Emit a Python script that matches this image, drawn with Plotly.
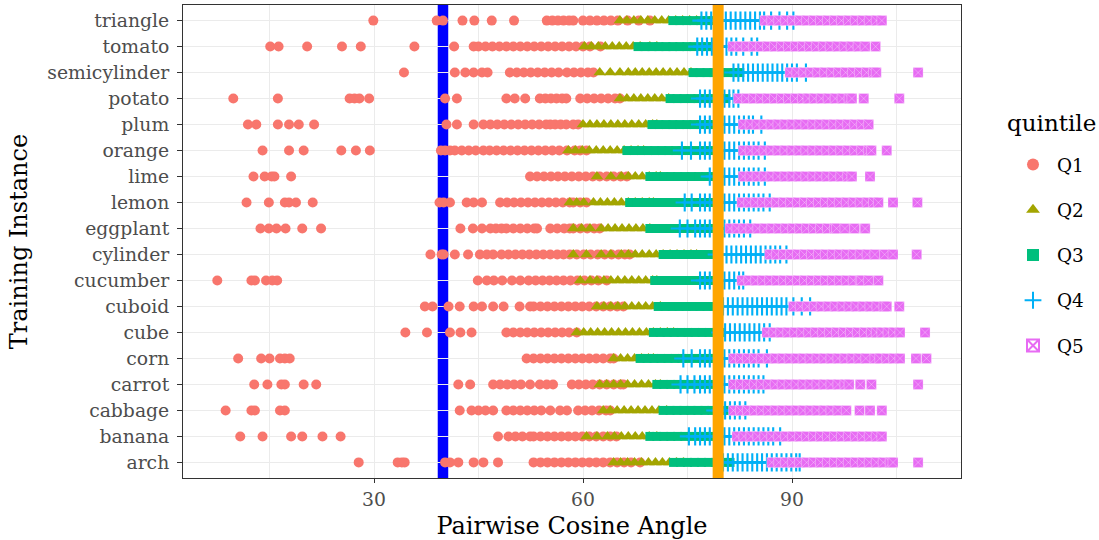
import plotly.graph_objects as go

# ---------------- data ----------------
categories = ["arch", "banana", "cabbage", "carrot", "corn", "cube", "cuboid",
              "cucumber", "cylinder", "eggplant", "lemon", "lime", "orange",
              "plum", "potato", "semicylinder", "tomato", "triangle"]
quintiles = ["Q1", "Q2", "Q3", "Q4", "Q5"]
x_ticks = [30, 60, 90]
blue_line_x = 39.9
orange_line_x = 79.4

triangle_q1 = [29.9, 39.0, 39.9, 42.7, 44.4, 46.9, 50.1, 54.8, 55.6, 56.4, 57.2, 58.0, 58.6, 60.0, 61.0, 62.0, 63.0, 64.0, 65.0, 66.4, 68.0, 69.6]
triangle_q2 = [65.3, 66.3, 67.3, 68.3, 69.3, 70.3, 71.3, 72.3, 73.3, 74.3, 75.3, 76.3, 77.0]
triangle_q3 = [72.9, 73.9, 74.9, 75.9, 76.9, 77.9, 78.7]
triangle_q4 = [77.0, 77.7, 78.4, 79.1, 79.8, 80.5, 81.2, 81.9, 82.6, 83.3, 84.0, 84.7, 85.4, 86.0, 87.0, 88.2, 89.3, 90.2]
triangle_q5 = [86.1, 87.1, 88.1, 89.1, 90.1, 91.1, 92.1, 93.1, 94.1, 95.1, 96.1, 97.1, 98.1, 99.1, 100.1, 101.1, 102.1, 102.9]

tomato_q1 = [15.1, 16.3, 20.4, 25.4, 28.1, 35.8, 41.5, 44.3, 45.0, 46.0, 47.0, 48.0, 49.0, 50.0, 51.0, 52.0, 53.0, 54.0, 55.0, 56.0, 57.0, 58.0, 59.0, 60.0, 61.0, 62.5]
tomato_q2 = [60.2, 61.2, 62.2, 63.2, 64.2, 65.2, 66.2, 67.2, 68.2, 69.6, 70.6]
tomato_q3 = [67.9, 68.9, 69.9, 70.9, 71.9, 72.9, 73.9, 74.9, 75.9, 76.9, 77.9, 78.6]
tomato_q4 = [76.4, 77.1, 77.8, 78.5, 79.2, 79.9, 80.6, 81.3, 82.0, 83.0, 84.2, 85.0]
tomato_q5 = [81.5, 82.5, 83.5, 84.5, 85.5, 86.5, 87.5, 88.5, 89.5, 90.5, 91.5, 92.5, 93.5, 94.5, 95.5, 96.5, 97.5, 98.5, 99.5, 100.5, 102.0]

semicylinder_q1 = [34.3, 41.6, 43.1, 44.3, 45.5, 46.3, 49.5, 50.5, 51.5, 52.5, 53.5, 54.5, 55.5, 56.5, 57.7, 58.7, 59.7, 60.7, 61.5]
semicylinder_q2 = [62.4, 63.9, 65.3, 66.5, 67.5, 68.5, 69.5, 70.5, 71.5, 72.5, 73.5, 74.5, 75.5]
semicylinder_q3 = [75.8, 76.8, 77.8, 78.8, 79.8, 80.8, 81.8, 82.5]
semicylinder_q4 = [81.6, 82.3, 83.0, 83.7, 84.4, 85.1, 85.8, 86.5, 87.2, 87.9, 88.6, 89.3, 90.0, 90.7, 92.0]
semicylinder_q5 = [89.7, 90.7, 91.7, 92.7, 93.7, 94.7, 95.7, 96.7, 97.7, 98.7, 99.7, 100.7, 101.7, 102.1, 108.1]

potato_q1 = [9.8, 16.2, 26.5, 27.2, 27.9, 29.3, 40.2, 41.9, 49.0, 50.2, 51.7, 53.8, 54.6, 55.4, 56.2, 57.0, 57.6, 59.6, 60.6, 61.6, 62.6, 63.6, 64.6, 65.3]
potato_q2 = [65.3, 66.3, 67.3, 68.3, 69.3, 70.3, 71.3, 72.3]
potato_q3 = [72.5, 73.5, 74.5, 75.5, 76.5, 77.5, 78.5, 79.5, 80.5]
potato_q4 = [76.8, 77.5, 78.2, 78.9, 79.6, 80.3, 81.0, 81.6, 82.3]
potato_q5 = [82.3, 83.5, 84.5, 85.5, 86.5, 87.5, 88.5, 89.5, 90.5, 91.5, 92.3, 93.2, 94.2, 95.2, 96.2, 97.2, 98.2, 98.6, 100.3, 105.4]

plum_q1 = [11.9, 13.1, 16.2, 17.8, 19.2, 21.4, 40.4, 41.9, 44.3, 45.7, 46.7, 47.7, 48.7, 49.7, 50.7, 51.7, 52.7, 53.7, 54.7, 55.3, 56.0, 56.8, 57.6, 58.6, 59.3]
plum_q2 = [60.0, 61.0, 62.0, 63.0, 64.0, 65.0, 66.0, 67.0, 68.0, 69.0, 70.0, 70.6]
plum_q3 = [69.9, 70.9, 71.9, 72.9, 73.9, 74.9, 75.9, 76.9, 77.9, 78.3]
plum_q4 = [76.8, 77.5, 78.2, 78.9, 79.6, 80.3, 81.0, 81.7, 82.4, 83.1, 83.8, 84.4, 85.6]
plum_q5 = [83.0, 84.0, 85.0, 86.0, 87.0, 88.0, 89.0, 90.0, 91.0, 92.0, 93.0, 94.0, 95.0, 96.0, 97.0, 98.0, 99.0, 100.0, 101.0]

orange_q1 = [14.0, 17.8, 19.9, 25.3, 27.4, 29.4, 39.6, 40.2, 40.9, 41.6, 42.6, 43.6, 44.6, 45.7, 46.6, 47.6, 48.6, 49.6, 50.6, 51.6, 52.6, 53.6, 54.6, 55.6, 56.6, 57.7, 58.8, 59.6, 60.5]
orange_q2 = [57.9, 58.9, 59.9, 60.9, 61.9, 62.9, 63.9, 64.9, 65.9, 66.9, 67.9, 68.7]
orange_q3 = [66.3, 67.3, 68.3, 69.3, 70.3, 71.3, 72.3, 73.3, 74.2, 75.2, 76.2, 77.2, 78.2]
orange_q4 = [74.2, 75.5, 76.8, 77.5, 78.2, 78.9, 79.6, 80.3, 81.0, 81.7, 82.4, 83.1, 83.8, 84.5, 85.2, 86.1]
orange_q5 = [83.0, 84.0, 85.0, 86.0, 87.0, 88.0, 89.0, 90.0, 91.0, 92.0, 93.0, 94.0, 95.0, 96.0, 97.0, 98.0, 99.0, 100.0, 101.0, 101.4, 103.6]

lime_q1 = [12.7, 14.3, 15.3, 15.7, 18.1, 52.4, 53.4, 54.4, 55.4, 56.4, 57.4, 58.4, 59.4, 60.4, 61.4, 62.4, 63.4, 64.4, 65.4, 66.3]
lime_q2 = [62.0, 64.0, 65.5, 66.5, 67.5, 68.5, 69.5, 70.5, 71.1]
lime_q3 = [69.6, 70.6, 71.6, 72.6, 73.6, 74.6, 75.6, 76.6, 77.6, 78.4]
lime_q4 = [78.2, 78.9, 79.6, 80.3, 81.0, 81.7, 82.4, 83.1, 83.8, 84.5, 85.2, 86.1]
lime_q5 = [83.0, 84.0, 85.0, 86.0, 87.0, 88.0, 89.0, 90.0, 91.0, 92.0, 93.0, 94.0, 95.0, 96.0, 97.0, 98.0, 98.6, 101.2]

lemon_q1 = [11.7, 14.9, 17.2, 17.8, 18.8, 21.2, 39.4, 40.0, 40.9, 43.3, 44.3, 45.5, 48.1, 49.1, 50.1, 51.1, 52.1, 53.1, 54.1, 55.1, 56.1, 57.1, 58.1, 58.6, 59.6, 60.5]
lemon_q2 = [58.1, 59.1, 60.1, 61.5, 62.5, 63.5, 64.5, 65.5, 66.5, 67.5, 68.5, 69.5, 70.1]
lemon_q3 = [66.7, 67.7, 68.7, 69.7, 70.7, 71.7, 72.7, 73.7, 74.7, 75.7, 76.7, 77.7, 78.5]
lemon_q4 = [74.6, 75.6, 76.8, 77.5, 78.2, 78.9, 79.6, 80.3, 81.0, 81.7, 82.4, 83.1, 83.8, 84.5, 85.2, 85.9, 86.8]
lemon_q5 = [82.8, 83.8, 84.8, 85.8, 86.8, 87.8, 88.8, 89.8, 90.8, 91.8, 92.8, 93.8, 94.8, 95.8, 96.8, 97.8, 98.8, 99.8, 100.8, 101.7, 102.4, 104.5, 108.0]

eggplant_q1 = [13.7, 14.9, 16.0, 17.3, 19.7, 22.4, 42.4, 44.2, 45.5, 46.7, 47.5, 48.3, 49.0, 50.0, 51.0, 52.0, 53.0, 53.4, 55.3, 56.3, 57.3, 58.1, 58.6, 59.6, 60.6, 61.6, 62.4]
eggplant_q2 = [58.6, 59.8, 61.0, 62.6, 63.6, 64.6, 65.6, 66.6, 67.6, 68.6, 69.6]
eggplant_q3 = [69.6, 70.6, 71.6, 72.6, 73.6, 74.6, 75.6, 76.6, 77.6, 78.4, 79.2]
eggplant_q4 = [73.9, 75.0, 76.1, 76.8, 77.5, 78.2, 78.9, 79.6, 80.3, 81.0, 81.7, 82.4, 83.1, 84.0]
eggplant_q5 = [81.1, 82.1, 83.1, 84.1, 85.1, 86.1, 87.1, 88.1, 89.1, 90.1, 91.1, 92.1, 93.1, 94.1, 95.1, 96.1, 96.4, 97.6, 99.0, 100.5]

cylinder_q1 = [38.1, 39.7, 40.0, 41.6, 43.5, 45.2, 46.2, 47.1, 48.3, 49.3, 50.3, 51.3, 52.3, 53.3, 54.3, 55.3, 56.3, 57.2, 58.1, 59.1, 60.1, 61.1, 62.1, 63.1, 64.1, 65.1, 66.0, 66.7]
cylinder_q2 = [58.6, 60.5, 62.6, 64.0, 65.5, 66.5, 67.5, 68.5, 69.5, 70.5, 71.5, 72.5, 73.5, 74.5, 75.5, 76.3]
cylinder_q3 = [71.5, 72.5, 73.5, 74.5, 75.5, 76.5, 77.5, 78.5, 79.3]
cylinder_q4 = [79.2, 79.9, 80.6, 81.3, 82.0, 82.7, 83.4, 84.1, 84.8, 85.5, 86.2, 86.9, 87.6, 88.3, 89.2]
cylinder_q5 = [86.8, 87.8, 88.8, 89.8, 90.8, 91.8, 92.8, 93.8, 94.8, 95.8, 96.8, 97.8, 98.8, 99.8, 100.8, 101.9, 103.3, 104.5, 107.9]

cucumber_q1 = [7.5, 12.4, 12.9, 14.5, 15.4, 16.1, 44.9, 46.2, 47.2, 48.4, 49.8, 51.0, 52.2, 53.2, 54.2, 55.2, 56.2, 57.2, 58.2, 59.2, 60.2, 61.2, 62.2, 63.4]
cucumber_q2 = [59.6, 61.0, 62.0, 63.0, 64.0, 65.0, 66.0, 67.0, 68.0, 69.0, 70.0, 70.6]
cucumber_q3 = [70.3, 71.3, 72.3, 73.3, 74.3, 75.3, 76.3, 77.3, 78.3, 79.0]
cucumber_q4 = [76.8, 77.5, 78.2, 78.9, 79.6, 80.3, 81.0, 81.7, 82.4, 83.0]
cucumber_q5 = [82.8, 83.8, 84.8, 85.8, 86.8, 87.8, 88.8, 89.8, 90.8, 91.8, 92.8, 93.8, 94.8, 95.8, 96.8, 97.8, 98.8, 99.8, 100.0, 101.0, 102.4]

cuboid_q1 = [37.3, 38.4, 40.7, 42.3, 44.3, 45.5, 47.1, 48.6, 50.9, 52.4, 52.9, 53.9, 54.9, 55.9, 56.9, 57.9, 58.9, 59.9, 60.9, 61.9, 62.9, 63.9, 64.9, 65.8]
cuboid_q2 = [62.0, 63.0, 64.0, 65.0, 66.0, 67.0, 68.0, 69.0, 70.0, 71.1]
cuboid_q3 = [70.8, 71.8, 72.8, 73.8, 74.8, 75.8, 76.8, 77.8, 78.8, 79.6]
cuboid_q4 = [80.1, 80.8, 81.5, 82.2, 82.9, 83.6, 84.3, 85.0, 85.7, 86.4, 87.1, 87.8, 88.5, 89.2, 90.2, 91.4, 92.6]
cuboid_q5 = [90.2, 91.2, 92.2, 93.2, 94.2, 95.2, 96.2, 97.2, 98.2, 99.2, 100.2, 101.2, 102.2, 103.2, 103.6, 105.4]

cube_q1 = [34.5, 37.6, 40.9, 42.4, 44.0, 49.0, 50.0, 51.0, 52.0, 53.0, 54.0, 55.0, 56.0, 57.0, 58.0, 59.1]
cube_q2 = [59.1, 60.1, 61.1, 62.1, 63.1, 64.1, 65.1, 66.1, 67.1, 68.1, 69.1, 70.1, 71.1, 72.1, 73.0]
cube_q3 = [70.1, 71.1, 72.1, 73.1, 74.1, 75.1, 76.1, 77.1, 78.1, 79.1, 79.7]
cube_q4 = [79.7, 80.4, 81.1, 81.8, 82.5, 83.2, 83.9, 84.6, 85.3, 86.0, 86.8]
cube_q5 = [86.4, 87.4, 88.4, 89.4, 90.4, 91.4, 92.4, 93.4, 94.4, 95.4, 96.4, 97.4, 98.4, 99.4, 100.4, 101.4, 102.1, 102.9, 103.8, 104.6, 105.5, 109.1]

corn_q1 = [10.5, 13.8, 15.0, 16.5, 17.2, 17.9, 51.9, 52.9, 53.9, 54.9, 55.9, 56.9, 57.9, 58.9, 59.9, 60.9, 61.9, 62.9, 63.9, 64.4]
corn_q2 = [64.4, 65.4, 66.4, 67.4, 68.4, 69.4, 70.1]
corn_q3 = [68.2, 69.2, 70.2, 71.2, 72.2, 73.2, 74.2, 75.2, 76.2, 77.2, 78.2, 79.0]
corn_q4 = [74.4, 75.6, 76.8, 77.5, 78.2, 78.9, 79.6, 80.3, 81.0, 81.7, 82.4, 83.1, 83.8, 84.5, 85.2, 86.4]
corn_q5 = [81.6, 82.6, 83.6, 84.6, 85.6, 86.6, 87.6, 88.6, 89.6, 90.6, 91.6, 92.6, 93.6, 94.6, 95.6, 96.6, 97.6, 98.6, 99.6, 100.6, 101.9, 102.6, 103.6, 104.6, 105.5, 107.8, 109.3]

carrot_q1 = [12.8, 14.7, 16.7, 17.2, 19.9, 21.7, 42.1, 43.8, 47.1, 48.1, 49.1, 50.1, 51.1, 52.4, 53.8, 54.8, 55.7, 58.4, 59.4, 60.4, 61.4, 62.4, 63.4, 64.4, 65.4, 65.8]
carrot_q2 = [62.4, 63.4, 64.4, 65.4, 66.4, 67.4, 68.4, 69.4, 70.4, 71.1]
carrot_q3 = [70.6, 71.6, 72.6, 73.6, 74.6, 75.6, 76.6, 77.6, 78.6, 79.4]
carrot_q4 = [74.0, 75.0, 76.0, 76.8, 77.5, 78.2, 78.9, 79.6, 80.3, 81.0, 81.7, 82.4, 83.1, 83.8, 84.5, 85.2, 85.9]
carrot_q5 = [81.6, 82.6, 83.6, 84.6, 85.6, 86.6, 87.6, 88.6, 89.6, 90.6, 91.6, 92.6, 93.6, 94.6, 95.6, 96.6, 97.6, 98.2, 99.8, 101.4, 108.1]

cabbage_q1 = [8.7, 12.4, 12.9, 16.5, 17.2, 42.3, 44.0, 45.0, 46.0, 47.1, 49.0, 50.0, 51.0, 52.0, 53.0, 54.0, 55.3, 56.7, 57.7, 59.3, 60.3, 61.3, 62.3, 63.3, 63.9]
cabbage_q2 = [62.9, 63.9, 64.9, 65.9, 66.9, 67.9, 68.9, 69.9, 70.9, 72.0]
cabbage_q3 = [71.5, 72.5, 73.5, 74.5, 75.5, 76.5, 77.5, 78.5, 79.5, 80.5, 81.5]
cabbage_q4 = [79.0, 79.7, 80.4, 81.1, 81.8, 82.5, 83.3]
cabbage_q5 = [81.6, 82.6, 83.6, 84.6, 85.6, 86.6, 87.6, 88.6, 89.6, 90.6, 91.6, 92.6, 93.6, 94.6, 95.6, 96.6, 97.8, 99.7, 101.2, 102.9]

banana_q1 = [10.8, 14.0, 18.1, 19.7, 22.6, 25.2, 47.8, 49.3, 50.3, 51.3, 52.4, 52.9, 53.9, 54.9, 55.9, 56.9, 57.9, 58.9, 59.9, 60.9, 61.9, 62.9, 63.9, 64.8]
banana_q2 = [60.5, 62.0, 63.5, 64.5, 65.5, 66.5, 67.5, 68.5, 69.5, 70.6]
banana_q3 = [69.6, 70.6, 71.6, 72.6, 73.6, 74.6, 75.6, 76.6, 77.6, 78.6, 79.3]
banana_q4 = [75.2, 76.1, 76.8, 77.5, 78.2, 78.9, 79.6, 80.3, 81.0, 81.7, 82.4, 83.1, 83.8, 84.5, 85.2, 85.9, 86.6, 87.3, 88.3]
banana_q5 = [82.1, 83.1, 84.1, 85.1, 86.1, 87.1, 88.1, 89.1, 90.1, 91.1, 92.1, 93.1, 94.1, 95.1, 96.1, 97.1, 98.1, 99.1, 100.1, 101.1, 102.1, 102.9]

arch_q1 = [27.8, 33.4, 34.0, 34.4, 40.2, 40.9, 42.1, 44.3, 45.7, 47.8, 52.9, 53.9, 54.9, 55.9, 56.9, 57.9, 58.9, 59.9, 60.9, 61.9, 62.9, 63.9, 64.9, 65.9, 66.9, 68.2]
arch_q2 = [64.4, 65.4, 66.4, 67.4, 68.4, 69.4, 70.4, 71.4, 72.4, 73.4, 74.4]
arch_q3 = [73.0, 74.0, 75.0, 76.0, 77.0, 78.0, 79.0, 80.0, 81.1]
arch_q4 = [80.1, 80.8, 81.5, 82.2, 82.9, 83.6, 84.3, 85.0, 85.7, 86.4, 87.1, 87.8, 88.5, 89.2, 89.9, 90.6, 91.1]
arch_q5 = [87.1, 88.1, 89.1, 90.1, 91.1, 92.1, 93.1, 94.1, 95.1, 96.1, 97.1, 98.1, 99.1, 100.1, 101.1, 102.1, 103.1, 104.1, 104.5, 108.1]

# ---------------- figure ----------------
data = {}
for c in categories:
    data[c] = [globals()[f"{c}_q{k}"] for k in range(1, 6)]

colors = ["#F8766D", "#A3A500", "#00BF7D", "#00B0F6", "#E76BF3"]
styles = [
    dict(symbol="circle", size=10, line=dict(width=0)),
    dict(symbol="triangle-up", size=11, line=dict(width=0)),
    dict(symbol="square", size=9, line=dict(width=0)),
    dict(symbol="cross-thin-open", size=13, line=dict(width=2.1)),
    dict(symbol="square-x", size=10, line=dict(width=1, color="rgba(255,255,255,0.3)")),
]
legend_styles = [
    dict(symbol="circle", size=10, line=dict(width=0)),
    dict(symbol="triangle-up", size=11, line=dict(width=0)),
    dict(symbol="square", size=9, line=dict(width=0)),
    dict(symbol="cross-thin-open", size=13, line=dict(width=1.6)),
    dict(symbol="square-x-open", size=9, line=dict(width=1.4)),
]

FONT = "DejaVu Serif"
TICK = 18.8
TITLE = 24
fig = go.Figure()

for k, q in enumerate(quintiles):
    xs, ys = [], []
    for c in categories:
        vals = data[c][k]
        xs += vals
        ys += [c] * len(vals)
    fig.add_trace(go.Scatter(x=xs, y=ys, mode="markers", name=q, showlegend=False,
                             marker=dict(color=colors[k], **styles[k]),
                             hoverinfo="x+y+name"))

for k, q in enumerate(quintiles):
    fig.add_trace(go.Scatter(x=[None], y=[None], mode="markers", name=q,
                             legendgroup=q,
                             marker=dict(color=colors[k], **legend_styles[k])))

fig.add_shape(type="line", xref="x", yref="paper", x0=blue_line_x, x1=blue_line_x,
              y0=0, y1=1, line=dict(color="#0000FF", width=10.5), layer="between")
fig.add_shape(type="line", xref="x", yref="paper", x0=orange_line_x, x1=orange_line_x,
              y0=0, y1=1, line=dict(color="#FFA500", width=11), layer="above")

fig.add_annotation(text="quintile", xref="paper", yref="paper", x=1.0566, y=0.7505,
                   xanchor="left", yanchor="middle", showarrow=False,
                   font=dict(size=23, family=FONT, color="black"))

fig.update_layout(
    width=1099, height=540,
    margin=dict(l=183, r=138, t=5, b=62),
    paper_bgcolor="white", plot_bgcolor="white",
    font=dict(family=FONT, color="black"),
    legend=dict(font=dict(size=18.4, family=FONT),
                x=1.0617, xanchor="left", y=0.7016, yanchor="top",
                tracegroupgap=18.3, itemwidth=38, itemsizing="constant"),
)
fig.update_xaxes(
    range=[2.58, 114.26], tickvals=x_ticks, ticktext=[str(v) for v in x_ticks],
    showgrid=True, gridcolor="#EBEBEB", gridwidth=1.1,
    minor=dict(dtick=15, tick0=0, showgrid=True, gridcolor="#EBEBEB", gridwidth=0.6),
    ticks="outside", ticklen=4, tickcolor="#333333", tickwidth=1,
    tickfont=dict(size=TICK, color="#4D4D4D", family=FONT),
    showline=True, linecolor="#333333", linewidth=1, mirror=True, zeroline=False,
    title=dict(text="Pairwise Cosine Angle", font=dict(size=TITLE, family=FONT, color="black"), standoff=8),
)
fig.update_yaxes(
    type="category", categoryorder="array", categoryarray=categories,
    range=[-0.6, len(categories) - 0.4],
    showgrid=True, gridcolor="#EBEBEB", gridwidth=1.1,
    ticks="outside", ticklen=5, tickcolor="#333333", tickwidth=1, ticklabelstandoff=4,
    tickfont=dict(size=TICK, color="#4D4D4D", family=FONT),
    showline=True, linecolor="#333333", linewidth=1, mirror=True, zeroline=False,
    title=dict(text="Training Instance", font=dict(size=TITLE, family=FONT, color="black"), standoff=12),
)

fig.write_html("out.html", config={"displayModeBar": False},
               post_script="document.body.style.margin='0';")
